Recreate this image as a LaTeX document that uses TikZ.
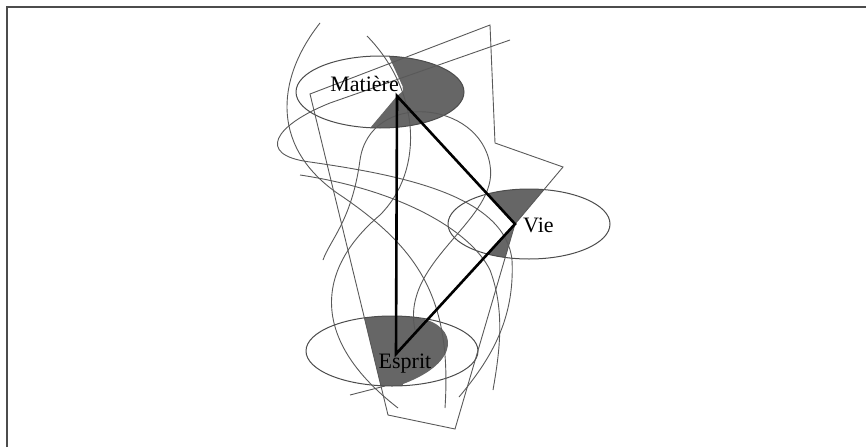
\documentclass[tikz,border=0pt]{standalone}
\usepackage{fontspec}
\setmainfont{Liberation Serif}
\usepackage{tikz}
\usetikzlibrary{positioning}

\tikzset{
  thin line/.style={draw=black!65, line width=0.9pt},
  ring/.style={draw=black!70, line width=1pt},
  side/.style={draw=black, line width=2.6pt},
  shade/.style={fill=black!60},
  label/.style={font=\fontsize{22}{26}\selectfont, inner sep=0pt}
}

\begin{document}
\begin{tikzpicture}[x=1pt, y=-1pt]
        \useasboundingbox (0,0) rectangle (866,447);

        % Frame
        \draw[black!70, line width=2pt] (7,447) -- (7,7) -- (866,7);

        % Corners of the triangle
        \coordinate (mat) at (397,96);
        \coordinate (vie) at (515,224);
        \coordinate (esp) at (396,354);

        % Shaded parts of the ellipses
        \begin{scope}
            \clip (380,92) ellipse [x radius=84, y radius=36];
            \fill[shade] (mat) -- (403,91) -- (402.5,86) -- (386,50) -- (480,50) -- (480,140) -- (360,140) -- cycle;
        \end{scope}
        \begin{scope}
            \clip (529,224) ellipse [x radius=81, y radius=35];
            \fill[shade] (vie) -- (mat) -- (607,115) -- cycle;
            \fill[shade] (vie) -- (esp) -- (455,429) -- cycle;
        \end{scope}
        \begin{scope}
            \clip (392,351) ellipse [x radius=86, y radius=35];
            \fill[shade] (355,280) -- (420,300) -- (420,318) .. controls (458,326) and (462,362) .. (403,384) -- (400,420) -- (388,415) -- cycle;
        \end{scope}

        % Ellipses
        \draw[ring] (380,92) ellipse [x radius=84, y radius=36];
        \draw[ring] (529,224) ellipse [x radius=81, y radius=35];
        \draw[ring] (392,351) ellipse [x radius=86, y radius=35];

        % Polygon
        \draw[thin line] (310,94) -- (490,25) -- (495,143) -- (563,167) -- (vie) -- (455,429) -- (388,415) -- cycle;

        % Loose curves
        \draw[thin line] (320,23) .. controls (275,80) and (270,150) .. (343,197) .. controls (420,250) and (452,300) .. (445,408);
        \draw[thin line] (367,36) .. controls (420,90) and (425,170) .. (380,215) .. controls (315,270) and (310,340) .. (398,408);
        \draw[thin line] (510,40) -- (330,103) .. controls (275,125) and (255,155) .. (310,162) .. controls (400,175) and (505,195) .. (512,260) .. controls (515,320) and (490,360) .. (459,397);
        \draw[thin line] (415,330) .. controls (400,260) and (500,220) .. (490,165) .. controls (480,100) and (370,90) .. (360,160) .. controls (352,220) and (330,240) .. (323,260);
        \draw[thin line] (300,175) .. controls (400,190) and (470,230) .. (490,270) .. controls (505,310) and (500,350) .. (493,390);
        \draw[thin line] (350,395) -- (385,386);

        % Triangle
        \draw[side, line join=miter] (mat) -- (vie) -- (esp) -- cycle;

        % Labels
        \node[label, anchor=base east] (matiere) at (399,91) {Matière};
        \node[label, anchor=base west] (vielabel) at (523,232) {Vie};
        \node[label, anchor=base] (esprit) at (405,368) {Esprit};

    \end{tikzpicture}
\end{document}
